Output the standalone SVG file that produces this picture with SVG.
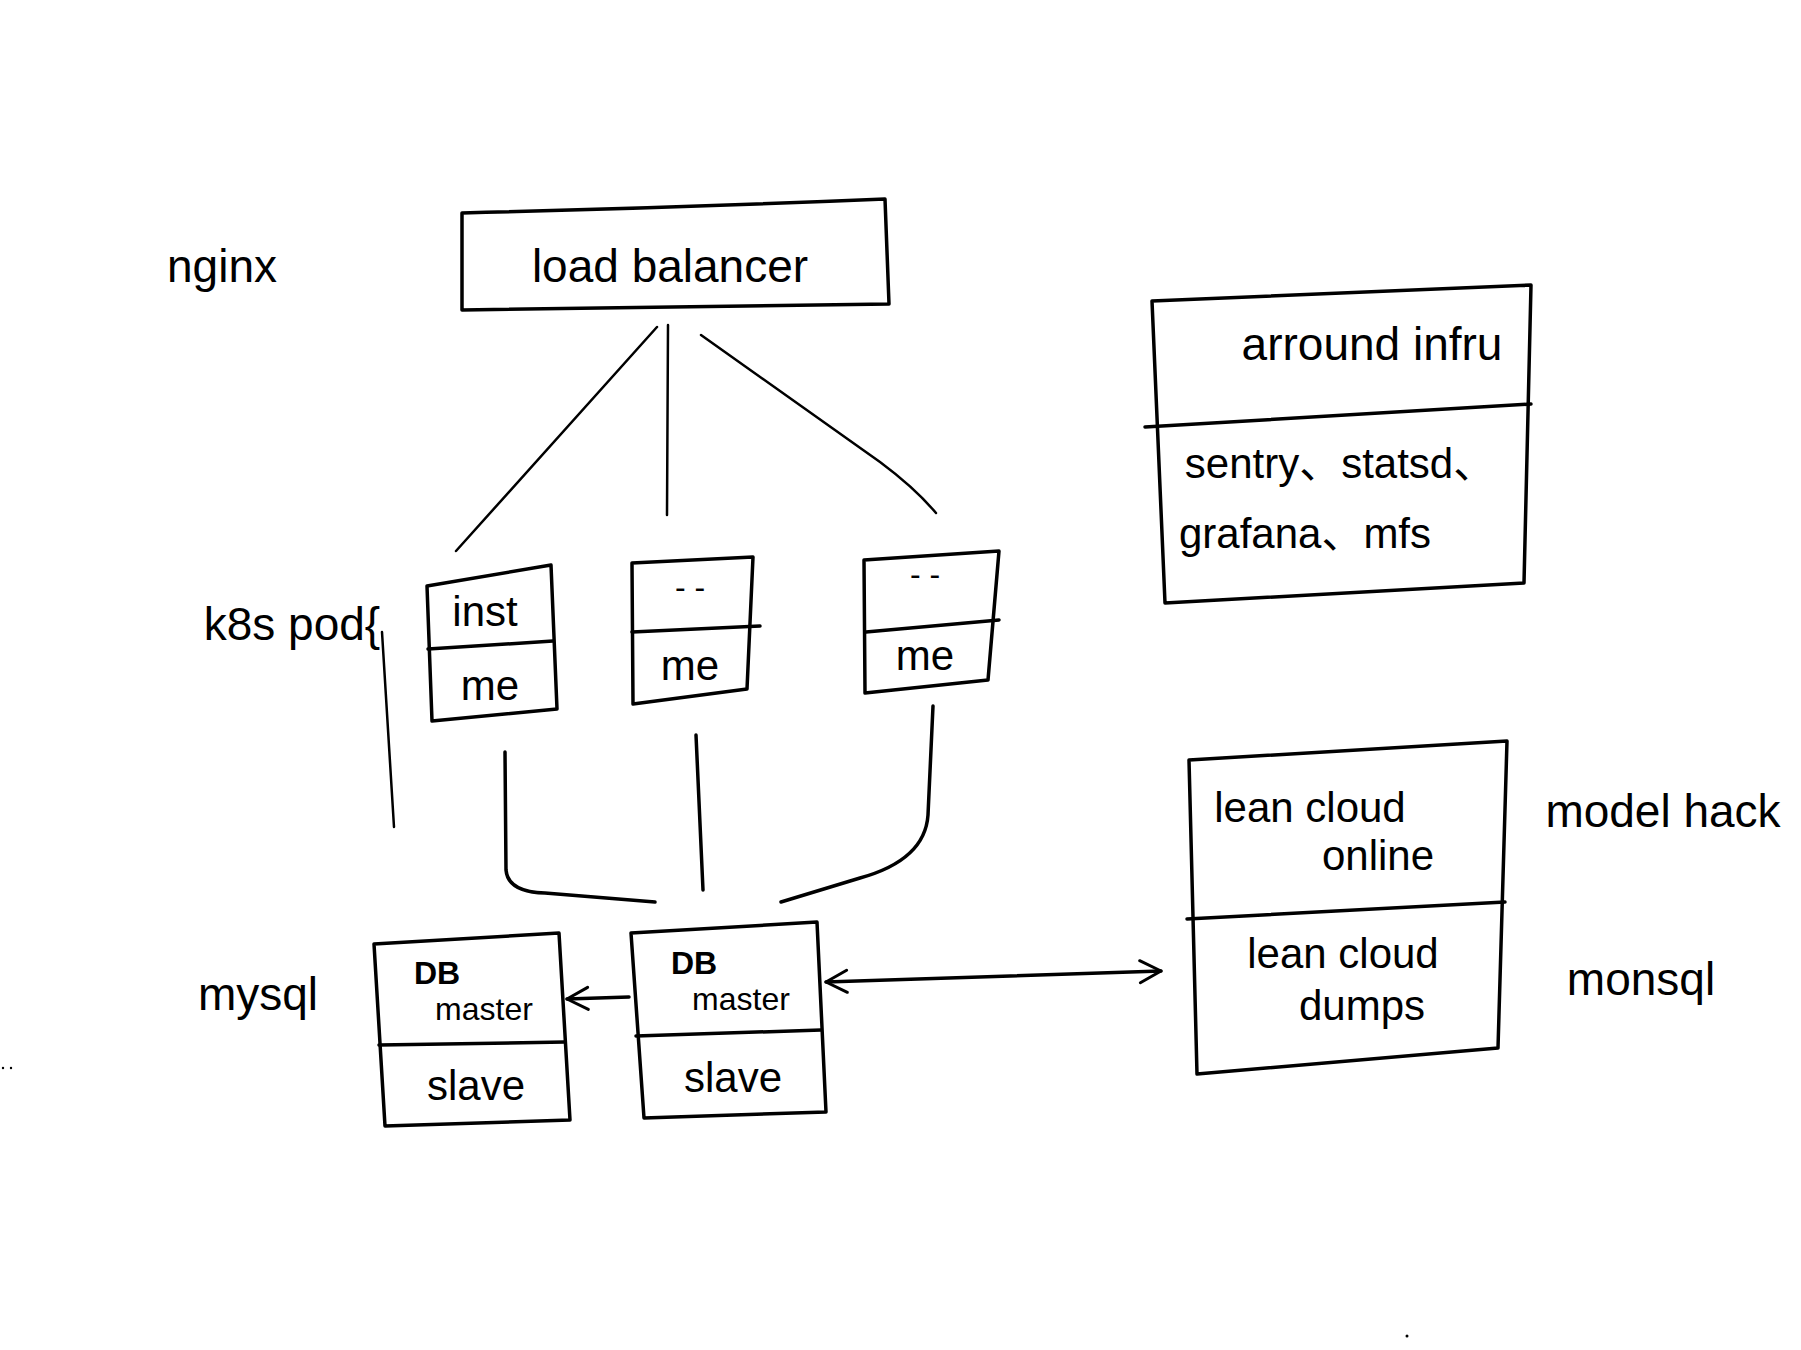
<svg xmlns="http://www.w3.org/2000/svg" width="1801" height="1350" viewBox="0 0 1801 1350">
<style>
.box{fill:none;stroke:#000;stroke-width:3.5;stroke-linejoin:round;stroke-linecap:round}
.ln{fill:none;stroke:#000;stroke-width:2.5;stroke-linecap:round;stroke-linejoin:round}
.lnb{fill:none;stroke:#000;stroke-width:3.5;stroke-linecap:round;stroke-linejoin:round}
text{font-family:"Liberation Sans","DejaVu Sans","Noto Sans CJK SC",sans-serif;fill:#000;text-anchor:middle}
.lbl{font-size:46px}
.in{font-size:42px}
.sm{font-size:32px}
</style>
<defs>
<marker id="chev" viewBox="0 0 28 28" refX="25" refY="14" markerWidth="28" markerHeight="28" markerUnits="userSpaceOnUse" orient="auto-start-reverse">
<path d="M4,3 L25,14 L4,25" fill="none" stroke="#000" stroke-width="3" stroke-linecap="round" stroke-linejoin="round"/>
</marker>
</defs>

<text class="lbl" x="222" y="282">nginx</text>
<text class="lbl" x="292" y="640">k8s pod{</text>
<text class="lbl" x="258" y="1010">mysql</text>
<text class="lbl" x="1663" y="827">model hack</text>
<text class="lbl" x="1641" y="995">monsql</text>

<g id="load-balancer">
<path class="box" d="M462,213 Q670,208 885,199 L889,304 Q680,306 462,310 Z"/>
<text class="lbl" x="670" y="282">load balancer</text>
</g>

<g id="pod1">
<path class="box" d="M427,586 L551,565 L557,709 L432,721 Z"/>
<path class="box" d="M428,649 L553,641"/>
<text class="in" x="485" y="626">inst</text>
<text class="in" x="490" y="700">me</text>
</g>

<g id="pod2">
<path class="box" d="M632,563 L753,557 L747,689 L633,704 Z"/>
<path class="box" d="M632,632 L760,626"/>
<text class="sm" x="690" y="598">- -</text>
<text class="in" x="690" y="680">me</text>
</g>

<g id="pod3">
<path class="box" d="M864,560 L999,551 L988,680 L865,693 Z"/>
<path class="box" d="M866,632 L999,620"/>
<text class="sm" x="925" y="585">- -</text>
<text class="in" x="925" y="670">me</text>
</g>

<g id="db1">
<path class="box" d="M374,944 L559,933 L570,1120 L385,1126 Z"/>
<path class="box" d="M379,1045 L565,1042"/>
<text class="sm" x="437" y="984" style="font-weight:bold">DB</text>
<text class="sm" x="484" y="1020">master</text>
<text class="in" x="476" y="1100">slave</text>
</g>

<g id="db2">
<path class="box" d="M631,933 L817,922 L826,1112 L644,1118 Z"/>
<path class="box" d="M636,1036 L821,1030"/>
<text class="sm" x="694" y="974" style="font-weight:bold">DB</text>
<text class="sm" x="741" y="1010">master</text>
<text class="in" x="733" y="1092">slave</text>
</g>

<g id="around-infra">
<path class="box" d="M1152,301 L1531,285 L1524,583 L1165,603 Z"/>
<path class="box" d="M1145,427 L1531,404"/>
<text class="lbl" x="1372" y="360">arround infru</text>
<text class="in" x="1340" y="478">sentry、statsd、</text>
<text class="in" x="1305" y="548">grafana、mfs</text>
</g>

<g id="lean-cloud">
<path class="box" d="M1189,760 L1507,741 L1498,1048 L1197,1074 Z"/>
<path class="box" d="M1187,919 L1505,902"/>
<text class="in" x="1310" y="822">lean cloud</text>
<text class="in" x="1378" y="870">online</text>
<text class="in" x="1343" y="968">lean cloud</text>
<text class="in" x="1362" y="1020">dumps</text>
</g>

<g id="connectors">
<path class="ln" d="M657,327 L456,551"/>
<path class="ln" d="M668,325 L667,515"/>
<path class="ln" d="M701,335 L880,462 Q915,488 936,513"/>
<path class="ln" d="M382,632 L394,827"/>
<path class="lnb" d="M505,752 L506,870 Q508,892 545,893 L655,902"/>
<path class="lnb" d="M696,735 L703,890"/>
<path class="lnb" d="M933,706 L928,815 Q925,860 860,878 L781,902"/>
<path class="lnb" d="M567,999 L629,997" marker-start="url(#chev)"/>
<path class="lnb" d="M826,982 L1161,971" marker-start="url(#chev)" marker-end="url(#chev)"/>
</g>

<circle cx="3" cy="1068" r="1.2" fill="#000"/>
<circle cx="11" cy="1068" r="1.2" fill="#000"/>
<circle cx="1407" cy="1336" r="1.5" fill="#000"/>
</svg>
